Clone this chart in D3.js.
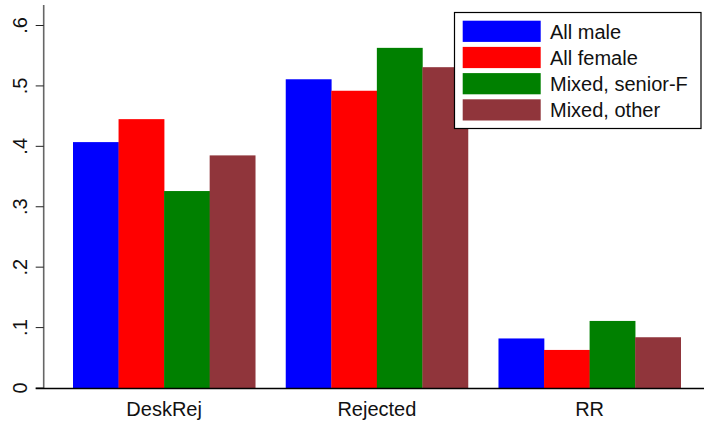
<!DOCTYPE html>
<html>
<head>
<meta charset="utf-8">
<script src="https://cdn.jsdelivr.net/npm/d3@7"></script>
<style>
  html, body { margin: 0; padding: 0; background: #fff; }
  svg { display: block; font-family: "Liberation Sans", Arial, sans-serif; }
</style>
</head>
<body>
<svg id="chart" width="704" height="426"></svg>
<script>
const categories = ["DeskRej", "Rejected", "RR"];
const seriesNames = ["All male", "All female", "Mixed, senior-F", "Mixed, other"];
const allMale      = [0.407, 0.511, 0.082];
const allFemale    = [0.445, 0.492, 0.063];
const mixedSeniorF = [0.326, 0.563, 0.111];
const mixedOther   = [0.385, 0.531, 0.084];
const seriesValues = [allMale, allFemale, mixedSeniorF, mixedOther];
const seriesColors = ["#0000ff", "#ff0000", "#008000", "#90353b"];
const yTicks = [0, 0.1, 0.2, 0.3, 0.4, 0.5, 0.6];
const yTickLabels = ["0", ".1", ".2", ".3", ".4", ".5", ".6"];

const svg = d3.select("#chart");
const plotLeft = 43.7, plotRight = 704, plotTop = 5, plotBottom = 388;

const y = d3.scaleLinear().domain([0, 0.6]).range([plotBottom, 25.5]);
const x0 = d3.scaleBand().domain(categories).range([73, 680.7])
  .paddingInner(0.1435).paddingOuter(0);
const x1 = d3.scaleBand().domain(seriesNames).range([0, x0.bandwidth()]).padding(0);

// bars
const g = svg.append("g");
categories.forEach((c, ci) => {
  seriesNames.forEach((s, si) => {
    const v = seriesValues[si][ci];
    g.append("rect")
      .attr("x", x0(c) + x1(s))
      .attr("y", y(v))
      .attr("width", x1.bandwidth() + 0.3)
      .attr("height", y(0) - y(v))
      .attr("fill", seriesColors[si]);
  });
});

// y axis
const yAxis = svg.append("g");
yAxis.append("line")
  .attr("x1", plotLeft).attr("x2", plotLeft)
  .attr("y1", plotTop).attr("y2", plotBottom)
  .attr("stroke", "#666").attr("stroke-width", 1.6);
yTicks.forEach((t, i) => {
  yAxis.append("line")
    .attr("x1", plotLeft - 8).attr("x2", plotLeft)
    .attr("y1", y(t)).attr("y2", y(t))
    .attr("stroke", "#222").attr("stroke-width", 1);
  yAxis.append("text")
    .attr("transform", `translate(27.3,${y(t)}) rotate(-90)`)
    .attr("text-anchor", "middle")
    .attr("font-size", 20)
    .attr("fill", "#111")
    .text(yTickLabels[i]);
});

// x axis
const xAxis = svg.append("g");
xAxis.append("line")
  .attr("x1", plotLeft - 8).attr("x2", plotRight)
  .attr("y1", plotBottom + 0.5).attr("y2", plotBottom + 0.5)
  .attr("stroke", "#000").attr("stroke-width", 1.6);
categories.forEach(c => {
  xAxis.append("text")
    .attr("x", x0(c) + x0.bandwidth() / 2)
    .attr("y", 415.5)
    .attr("text-anchor", "middle")
    .attr("font-size", 20)
    .attr("fill", "#111")
    .text(c);
});

// legend
const leg = svg.append("g");
leg.append("rect")
  .attr("x", 454.5).attr("y", 12.5)
  .attr("width", 246.5).attr("height", 116)
  .attr("fill", "#fff").attr("stroke", "#000").attr("stroke-width", 1.2);
seriesNames.forEach((s, i) => {
  const top = 20.7 + i * 26.2;
  leg.append("rect")
    .attr("x", 462.7).attr("y", top)
    .attr("width", 78).attr("height", 21.2)
    .attr("fill", seriesColors[i]);
  leg.append("text")
    .attr("x", 550).attr("y", top + 18)
    .attr("font-size", 20)
    .attr("fill", "#111")
    .text(s);
});
</script>
</body>
</html>
